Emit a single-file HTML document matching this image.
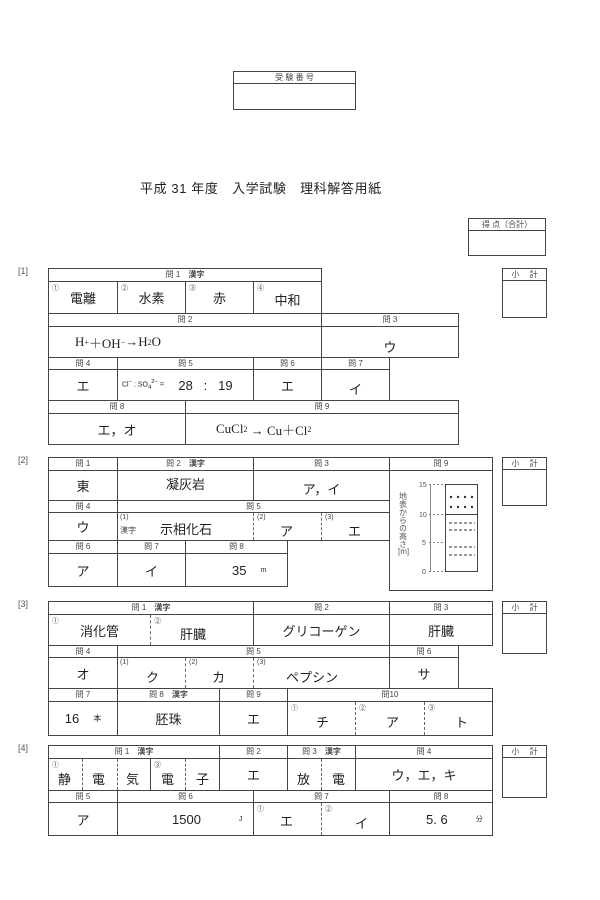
<!DOCTYPE html>
<html><head><meta charset="utf-8"><style>
body{margin:0;width:600px;height:900px;background:#fff;position:relative;overflow:hidden;font-family:"Liberation Sans","Noto Sans CJK JP",sans-serif;color:#222}
.c{position:absolute;box-sizing:border-box;border:1px solid #444;display:flex;align-items:center;justify-content:center;font-size:13px}
.h{position:absolute;box-sizing:border-box;border:1px solid #444;text-align:center;font-size:8px;color:#444;line-height:11px}
.n{position:absolute;font-size:7px;color:#444}
.d{position:absolute;border-left:1px dashed #666;width:0}
.t{position:absolute;font-size:9px;color:#555}
.s{font-family:"Liberation Serif","Noto Serif CJK SC",serif}
</style></head><body>
<!-- top -->
<div class="h" style="left:233px;top:71px;width:123px;height:13px">受 験 番 号</div>
<div class="c" style="left:233px;top:83px;width:123px;height:27px"></div>
<div style="position:absolute;left:140px;top:178px;font-size:13px;letter-spacing:0.6px">平成 31 年度　入学試験　理科解答用紙</div>
<div class="h" style="left:468px;top:218px;width:78px;height:13px">得 点（合計）</div>
<div class="c" style="left:468px;top:230px;width:78px;height:26px"></div>

<!-- subtotals -->
<div class="h" style="left:502px;top:268px;width:45px;height:13px">小　 計</div><div class="c" style="left:502px;top:280px;width:45px;height:38px"></div>
<div class="h" style="left:502px;top:457px;width:45px;height:13px">小　 計</div><div class="c" style="left:502px;top:469px;width:45px;height:37px"></div>
<div class="h" style="left:502px;top:601px;width:45px;height:13px">小　 計</div><div class="c" style="left:502px;top:613px;width:45px;height:41px"></div>
<div class="h" style="left:502px;top:745px;width:45px;height:13px">小　 計</div><div class="c" style="left:502px;top:757px;width:45px;height:41px"></div>

<!-- [1] -->
<div class="t" style="left:18px;top:266px">[1]</div>
<div class="h" style="left:48px;top:268px;width:274px;height:14px">問 1　<b>漢字</b></div>
<div class="c" style="left:48px;top:281px;width:70px;height:33px">電離</div>
<div class="c" style="left:117px;top:281px;width:69px;height:33px">水素</div>
<div class="c" style="left:185px;top:281px;width:69px;height:33px">赤</div>
<div class="c" style="left:253px;top:281px;width:69px;height:33px;padding-top:4px">中和</div>
<div class="n" style="left:52px;top:283px">①</div><div class="n" style="left:121px;top:283px">②</div><div class="n" style="left:189px;top:283px">③</div><div class="n" style="left:257px;top:283px">④</div>
<div class="h" style="left:48px;top:313px;width:274px;height:14px">問 2</div>
<div class="h" style="left:321px;top:313px;width:138px;height:14px">問 3</div>
<div class="c s" style="left:48px;top:326px;width:274px;height:32px;justify-content:flex-start;padding-left:26px">H<sup style="font-size:8px">+</sup>＋OH<sup style="font-size:8px">−</sup>→H<sub style="font-size:8px">2</sub>O</div>
<div class="c" style="left:321px;top:326px;width:138px;height:32px;padding-top:8px">ウ</div>
<div class="h" style="left:48px;top:357px;width:70px;height:13px">問 4</div>
<div class="h" style="left:117px;top:357px;width:137px;height:13px">問 5</div>
<div class="h" style="left:253px;top:357px;width:69px;height:13px">問 6</div>
<div class="h" style="left:321px;top:357px;width:69px;height:13px">問 7</div>
<div class="c" style="left:48px;top:369px;width:70px;height:32px">エ</div>
<div class="c" style="left:117px;top:369px;width:137px;height:32px;justify-content:flex-start;padding-left:4px"><span style="font-size:7px">Cl<sup>−</sup> : SO<sub>4</sub><sup>2−</sup> =</span>&nbsp;&nbsp;&nbsp;&nbsp;28&nbsp;&nbsp;&nbsp;:&nbsp;&nbsp;&nbsp;19</div>
<div class="c" style="left:253px;top:369px;width:69px;height:32px">エ</div>
<div class="c" style="left:321px;top:369px;width:69px;height:32px;padding-top:6px">イ</div>
<div class="h" style="left:48px;top:400px;width:138px;height:14px">問 8</div>
<div class="h" style="left:185px;top:400px;width:274px;height:14px">問 9</div>
<div class="c" style="left:48px;top:413px;width:138px;height:32px">エ，オ</div>
<div class="c s" style="left:185px;top:413px;width:274px;height:32px;justify-content:flex-start;padding-left:30px">CuCl<sub style="font-size:8px">2</sub>&nbsp;→ Cu＋Cl<sub style="font-size:8px">2</sub></div>

<!-- [2] -->
<div class="t" style="left:18px;top:455px">[2]</div>
<div class="h" style="left:48px;top:457px;width:70px;height:14px">問 1</div>
<div class="h" style="left:117px;top:457px;width:137px;height:14px">問 2　<b>漢字</b></div>
<div class="h" style="left:253px;top:457px;width:137px;height:14px">問 3</div>
<div class="h" style="left:389px;top:457px;width:104px;height:14px">問 9</div>
<div class="c" style="left:48px;top:470px;width:70px;height:31px">東</div>
<div class="c" style="left:117px;top:470px;width:137px;height:31px;padding-bottom:4px">凝灰岩</div>
<div class="c" style="left:253px;top:470px;width:137px;height:31px;padding-top:6px">ア，イ</div>
<div class="h" style="left:48px;top:500px;width:70px;height:13px">問 4</div>
<div class="h" style="left:117px;top:500px;width:273px;height:13px">問 5</div>
<div class="c" style="left:48px;top:512px;width:70px;height:29px">ウ</div>
<div class="c" style="left:117px;top:512px;width:273px;height:29px"></div>
<div class="d" style="left:253px;top:513px;height:27px"></div><div class="d" style="left:321px;top:513px;height:27px"></div>
<div class="n" style="left:120px;top:514px">(1)</div><div class="n" style="left:120px;top:525px;font-size:8px">漢字</div>
<div style="position:absolute;left:160px;top:519px;font-size:13px">示相化石</div>
<div class="n" style="left:257px;top:514px">(2)</div><div style="position:absolute;left:280px;top:521px;font-size:13px">ア</div>
<div class="n" style="left:325px;top:514px">(3)</div><div style="position:absolute;left:348px;top:521px;font-size:13px">エ</div>
<div class="h" style="left:48px;top:540px;width:70px;height:14px">問 6</div>
<div class="h" style="left:117px;top:540px;width:69px;height:14px">問 7</div>
<div class="h" style="left:185px;top:540px;width:103px;height:14px">問 8</div>
<div class="c" style="left:48px;top:553px;width:70px;height:34px">ア</div>
<div class="c" style="left:117px;top:553px;width:69px;height:34px">イ</div>
<div class="c" style="left:185px;top:553px;width:103px;height:34px;justify-content:flex-start;padding-left:46px">35<span style="font-size:7px;margin-left:14px">m</span></div>
<div class="c" style="left:389px;top:470px;width:104px;height:121px"></div>
<svg style="position:absolute;left:389px;top:470px" width="104" height="121">
<rect x="56.5" y="14.5" width="32" height="87" fill="none" stroke="#444"/>
<line x1="56" y1="44.5" x2="88" y2="44.5" stroke="#444"/>
<g stroke="#888" stroke-dasharray="2,2"><line x1="40" y1="14.5" x2="56" y2="14.5"/><line x1="40" y1="44.5" x2="56" y2="44.5"/><line x1="40" y1="72.5" x2="56" y2="72.5"/><line x1="40" y1="101.5" x2="56" y2="101.5"/></g>
<line x1="41.5" y1="14" x2="41.5" y2="102" stroke="#888"/>
<g fill="#333"><circle cx="62" cy="27" r="1.2"/><circle cx="69" cy="27" r="1.2"/><circle cx="76" cy="27" r="1.2"/><circle cx="83" cy="27" r="1.2"/><circle cx="62" cy="37" r="1.2"/><circle cx="69" cy="37" r="1.2"/><circle cx="76" cy="37" r="1.2"/><circle cx="83" cy="37" r="1.2"/></g>
<g stroke="#333" stroke-dasharray="3,2"><line x1="60" y1="53" x2="86" y2="53"/><line x1="60" y1="60" x2="86" y2="60"/><line x1="60" y1="77" x2="86" y2="77"/><line x1="60" y1="85" x2="86" y2="85"/></g>
<g font-size="7" fill="#555" font-family="Liberation Sans"><text x="30" y="17">15</text><text x="30" y="47">10</text><text x="33" y="75">5</text><text x="33" y="104">0</text></g>
<text x="14" y="22" font-size="8" fill="#555" writing-mode="tb" font-family="Noto Sans CJK JP">地表からの高さ</text>
<text x="9" y="84" font-size="8" fill="#555">[m]</text>
</svg>

<!-- [3] -->
<div class="t" style="left:18px;top:599px">[3]</div>
<div class="h" style="left:48px;top:601px;width:206px;height:14px">問 1　<b>漢字</b></div>
<div class="h" style="left:253px;top:601px;width:137px;height:14px">問 2</div>
<div class="h" style="left:389px;top:601px;width:104px;height:14px">問 3</div>
<div class="c" style="left:48px;top:614px;width:206px;height:32px"></div>
<div class="d" style="left:150px;top:615px;height:30px"></div>
<div class="n" style="left:52px;top:616px">①</div><div style="position:absolute;left:80px;top:621px;font-size:13px">消化管</div>
<div class="n" style="left:154px;top:616px">②</div><div style="position:absolute;left:180px;top:624px;font-size:13px">肝臓</div>
<div class="c" style="left:253px;top:614px;width:137px;height:32px">グリコーゲン</div>
<div class="c" style="left:389px;top:614px;width:104px;height:32px">肝臓</div>
<div class="h" style="left:48px;top:645px;width:70px;height:13px">問 4</div>
<div class="h" style="left:117px;top:645px;width:273px;height:13px">問 5</div>
<div class="h" style="left:389px;top:645px;width:70px;height:13px">問 6</div>
<div class="c" style="left:48px;top:657px;width:70px;height:32px">オ</div>
<div class="c" style="left:117px;top:657px;width:273px;height:32px"></div>
<div class="d" style="left:185px;top:658px;height:30px"></div><div class="d" style="left:253px;top:658px;height:30px"></div>
<div class="n" style="left:120px;top:659px">(1)</div><div style="position:absolute;left:146px;top:667px;font-size:13px">ク</div>
<div class="n" style="left:189px;top:659px">(2)</div><div style="position:absolute;left:212px;top:667px;font-size:13px">カ</div>
<div class="n" style="left:257px;top:659px">(3)</div><div style="position:absolute;left:286px;top:667px;font-size:13px">ペプシン</div>
<div class="c" style="left:389px;top:657px;width:70px;height:32px">サ</div>
<div class="h" style="left:48px;top:688px;width:70px;height:14px">問 7</div>
<div class="h" style="left:117px;top:688px;width:103px;height:14px">問 8　<b>漢字</b></div>
<div class="h" style="left:219px;top:688px;width:69px;height:14px">問 9</div>
<div class="h" style="left:287px;top:688px;width:206px;height:14px">問10</div>
<div class="c" style="left:48px;top:701px;width:70px;height:35px">16<span style="font-size:8px;margin-left:14px">本</span></div>
<div class="c" style="left:117px;top:701px;width:103px;height:35px">胚珠</div>
<div class="c" style="left:219px;top:701px;width:69px;height:35px">エ</div>
<div class="c" style="left:287px;top:701px;width:206px;height:35px"></div>
<div class="d" style="left:355px;top:702px;height:33px"></div><div class="d" style="left:424px;top:702px;height:33px"></div>
<div class="n" style="left:291px;top:703px">①</div><div style="position:absolute;left:316px;top:712px;font-size:13px">チ</div>
<div class="n" style="left:359px;top:703px">②</div><div style="position:absolute;left:386px;top:712px;font-size:13px">ア</div>
<div class="n" style="left:428px;top:703px">③</div><div style="position:absolute;left:455px;top:712px;font-size:13px">ト</div>

<!-- [4] -->
<div class="t" style="left:18px;top:743px">[4]</div>
<div class="h" style="left:48px;top:745px;width:172px;height:14px">問 1　<b>漢字</b></div>
<div class="h" style="left:219px;top:745px;width:69px;height:14px">問 2</div>
<div class="h" style="left:287px;top:745px;width:69px;height:14px">問 3　<b>漢字</b></div>
<div class="h" style="left:355px;top:745px;width:138px;height:14px">問 4</div>
<div class="c" style="left:48px;top:758px;width:172px;height:33px"></div>
<div class="d" style="left:82px;top:759px;height:31px"></div><div class="d" style="left:117px;top:759px;height:31px"></div><div class="d" style="left:185px;top:759px;height:31px"></div>
<div style="position:absolute;left:150px;top:758px;width:1px;height:33px;background:#444"></div>
<div class="n" style="left:52px;top:760px">①</div><div class="n" style="left:154px;top:760px">③</div>
<div style="position:absolute;left:58px;top:769px;font-size:13px">静</div>
<div style="position:absolute;left:92px;top:769px;font-size:13px">電</div>
<div style="position:absolute;left:126px;top:769px;font-size:13px">気</div>
<div style="position:absolute;left:161px;top:769px;font-size:13px">電</div>
<div style="position:absolute;left:196px;top:769px;font-size:13px">子</div>
<div class="c" style="left:219px;top:758px;width:69px;height:33px">エ</div>
<div class="c" style="left:287px;top:758px;width:69px;height:33px"></div>
<div class="d" style="left:321px;top:759px;height:31px"></div>
<div style="position:absolute;left:297px;top:769px;font-size:13px">放</div>
<div style="position:absolute;left:332px;top:769px;font-size:13px">電</div>
<div class="c" style="left:355px;top:758px;width:138px;height:33px">ウ，エ，キ</div>
<div class="h" style="left:48px;top:790px;width:70px;height:13px">問 5</div>
<div class="h" style="left:117px;top:790px;width:137px;height:13px">問 6</div>
<div class="h" style="left:253px;top:790px;width:137px;height:13px">問 7</div>
<div class="h" style="left:389px;top:790px;width:104px;height:13px">問 8</div>
<div class="c" style="left:48px;top:802px;width:70px;height:34px">ア</div>
<div class="c" style="left:117px;top:802px;width:137px;height:34px;justify-content:flex-start;padding-left:54px">1500<span style="font-size:7px;margin-left:38px">J</span></div>
<div class="c" style="left:253px;top:802px;width:137px;height:34px"></div>
<div class="d" style="left:321px;top:803px;height:32px"></div>
<div class="n" style="left:257px;top:804px">①</div><div style="position:absolute;left:280px;top:811px;font-size:13px">エ</div>
<div class="n" style="left:325px;top:804px">②</div><div style="position:absolute;left:355px;top:813px;font-size:13px">イ</div>
<div class="c" style="left:389px;top:802px;width:104px;height:34px;justify-content:flex-start;padding-left:36px">5. 6<span style="font-size:7px;margin-left:28px">分</span></div>
</body></html>
